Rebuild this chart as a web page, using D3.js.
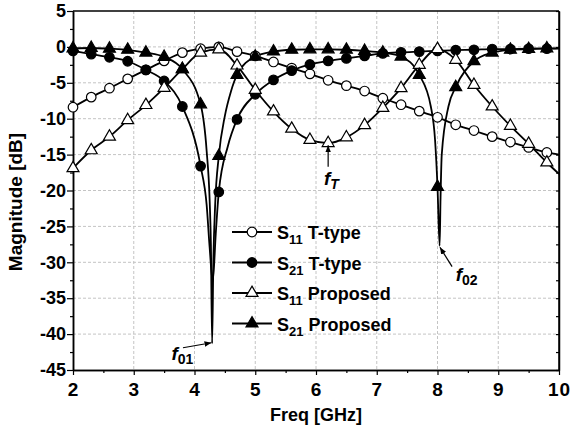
<!DOCTYPE html>
<html>
<head>
<meta charset="utf-8">
<script src="https://cdn.jsdelivr.net/npm/d3@7"></script>
<style>
body { margin: 0; background: #fff; }
text { font-family: "Liberation Sans", Arial, sans-serif; font-weight: bold; fill: #000; }
</style>
</head>
<body>
<div id="chart-area"></div>
<script>
// frequencies where the symbols sit (GHz)
var freqMarks = [2.0, 2.3, 2.6, 2.9, 3.2, 3.5, 3.8, 4.1, 4.4, 4.7, 5.0, 5.3, 5.6, 5.9,
                 6.2, 6.5, 6.8, 7.1, 7.4, 7.7, 8.0, 8.3, 8.6, 8.9, 9.2, 9.5, 9.8];

// magnitudes in dB read at freqMarks
var s11T = [-8.4, -7.0, -5.75, -4.45, -3.2, -1.95, -0.8, -0.25, 0.0, -0.65, -1.25, -2.1, -2.95, -3.75,
            -4.65, -5.4, -6.15, -7.15, -8.05, -8.95, -9.8, -10.85, -11.65, -12.5, -13.25, -14.0, -14.7];
var s21T = [-0.55, -1.0, -1.45, -2.0, -3.2, -4.75, -8.3, -16.6, -20.2, -10.1, -6.6, -4.6, -3.3, -2.45,
            -1.95, -1.6, -1.25, -0.9, -0.75, -0.65, -0.55, -0.45, -0.4, -0.3, -0.3, -0.25, -0.25];
var s11P = [-16.9, -14.4, -12.5, -10.2, -8.1, -5.7, -3.1, -0.8, -0.35, -2.6, -6.0, -9.0, -11.4, -12.95,
            -13.4, -12.6, -10.9, -8.5, -5.75, -2.5, -0.3, -1.8, -5.3, -8.3, -11.0, -13.5, -16.1];
var s21P = [-0.2, -0.15, -0.25, -0.4, -0.8, -1.4, -3.1, -8.0, -15.2, -3.9, -1.35, -0.65, -0.4, -0.35,
            -0.35, -0.4, -0.55, -0.8, -1.35, -3.9, -19.5, -5.6, -2.0, -0.8, -0.4, -0.3, -0.2];

// value of each curve at 10 GHz (line only, no symbol)
var s11TEnd = -15.0, s21TEnd = -0.2, s11PEnd = -17.7, s21PEnd = -0.2;

// extra line points around the transmission zeros [GHz, dB]
var s21TDip = [[4.2, -22], [4.25, -28], [4.3, -32.7], [4.35, -26], [4.55, -13.8]];
var s21PDip = [[4.2, -14.5], [4.25, -21.5], [4.27, -27.5], [4.29, -41.3], [4.31, -30], [4.34, -22],
               [4.5, -9.6], [4.6, -6.2],
               [7.89, -8.3], [7.96, -13], [8.035, -27.7], [8.05, -21], [8.07, -15], [8.18, -8.3]];

var xTicks = [2, 3, 4, 5, 6, 7, 8, 9, 10];
var xMinor = [2.5, 3.5, 4.5, 5.5, 6.5, 7.5, 8.5, 9.5];
var yTicks = [5, 0, -5, -10, -15, -20, -25, -30, -35, -40, -45];
var yMinor = [2.5, -2.5, -7.5, -12.5, -17.5, -22.5, -27.5, -32.5, -37.5, -42.5];

var legendNames = [["11", "T-type"], ["21", "T-type"], ["11", "Proposed"], ["21", "Proposed"]];

var margin = { left: 73, right: 12, top: 11, bottom: 62 };
var width = 571 - margin.left - margin.right,
    height = 432 - margin.top - margin.bottom;

var svg = d3.select("#chart-area")
    .append("svg")
    .attr("width", 571)
    .attr("height", 432);

var defs = svg.append("defs");
defs.append("marker")
    .attr("id", "arrow")
    .attr("viewBox", "0 0 10 10")
    .attr("refX", 10).attr("refY", 5)
    .attr("markerWidth", 7).attr("markerHeight", 7)
    .attr("markerUnits", "userSpaceOnUse")
    .attr("orient", "auto")
    .append("path")
    .attr("d", "M0,1 L10,5 L0,9 Z")
    .attr("fill", "#000");

var g = svg.append("g")
    .attr("transform", "translate(" + margin.left + ", " + margin.top + ")");

var x = d3.scaleLinear().domain([2, 10]).range([0, width]);
var y = d3.scaleLinear().domain([-45, 5]).range([height, 0]);

// grid
g.selectAll(".vgrid")
    .data(xTicks.slice(1, -1))
    .enter().append("line")
    .attr("x1", function (d) { return x(d); })
    .attr("x2", function (d) { return x(d); })
    .attr("y1", 0).attr("y2", height)
    .attr("stroke", "#c4c4c4").attr("stroke-width", 1).attr("stroke-dasharray", "3,2");
g.selectAll(".hgrid")
    .data(yTicks.slice(1, -1))
    .enter().append("line")
    .attr("y1", function (d) { return y(d); })
    .attr("y2", function (d) { return y(d); })
    .attr("x1", 0).attr("x2", width)
    .attr("stroke", "#c4c4c4").attr("stroke-width", 1).attr("stroke-dasharray", "3,2");

// axes
var xAxis = g.append("g")
    .attr("transform", "translate(0," + height + ")")
    .call(d3.axisBottom(x).tickValues(xTicks).tickSize(5).tickPadding(8).tickSizeOuter(0));
xAxis.selectAll("text").style("font-size", "19px").style("letter-spacing", "1px");
g.append("g")
    .attr("transform", "translate(0," + height + ")")
    .call(d3.axisBottom(x).tickValues(xMinor).tickSize(3).tickFormat("").tickSizeOuter(0));

var yAxis = g.append("g")
    .call(d3.axisLeft(y).tickValues(yTicks).tickSize(6).tickPadding(1).tickSizeOuter(0)
        .tickFormat(function (d) { return d < 0 ? "-" + Math.abs(d) : d; }));
yAxis.selectAll("text").style("font-size", "18px");
g.append("g")
    .call(d3.axisLeft(y).tickValues(yMinor).tickSize(3).tickFormat("").tickSizeOuter(0));

g.append("g")
    .attr("transform", "translate(" + width + ",0)")
    .call(d3.axisRight(y).tickValues(yTicks.concat(yMinor)).tickSize(-3).tickFormat("").tickSizeOuter(0));

g.selectAll(".domain").attr("stroke-width", 1.5);
g.selectAll(".tick line").attr("stroke-width", 1.2);

// frame top/right
g.append("line").attr("x1", 0).attr("x2", width).attr("y1", 0).attr("y2", 0)
    .attr("stroke", "#000").attr("stroke-width", 1.5);
g.append("line").attr("x1", width).attr("x2", width).attr("y1", 0).attr("y2", height)
    .attr("stroke", "#000").attr("stroke-width", 1.5);

// axis titles
svg.append("text")
    .attr("x", margin.left + width / 2)
    .attr("y", 421)
    .attr("text-anchor", "middle")
    .style("font-size", "18px")
    .text("Freq [GHz]");
svg.append("text")
    .attr("transform", "translate(22,202) rotate(-90)")
    .attr("text-anchor", "middle")
    .style("font-size", "19px")
    .text("Magnitude [dB]");

// series
function buildLine(vals, endVal, extra) {
    var pts = freqMarks.map(function (f, i) { return [f, vals[i]]; });
    pts.push([10, endVal]);
    (extra || []).forEach(function (p) { pts.push(p); });
    pts.sort(function (a, b) { return a[0] - b[0]; });
    return pts;
}

var series = [
    { vals: s11T, line: buildLine(s11T, s11TEnd), sym: "circle", fill: "#fff" },
    { vals: s21T, line: buildLine(s21T, s21TEnd, s21TDip), sym: "circle", fill: "#000" },
    { vals: s11P, line: buildLine(s11P, s11PEnd), sym: "triangle", fill: "#fff" },
    { vals: s21P, line: buildLine(s21P, s21PEnd, s21PDip), sym: "triangle", fill: "#000" }
];

var line = d3.line()
    .x(function (d) { return x(d[0]); })
    .y(function (d) { return y(d[1]); })
    .curve(d3.curveMonotoneX);

var plot = g.append("g");
series.forEach(function (s) {
    plot.append("path")
        .attr("d", line(s.line))
        .attr("fill", "none")
        .attr("stroke", "#000")
        .attr("stroke-width", 1.8);
});

var circleSym = d3.symbol().type(d3.symbolCircle).size(72);
var triSym = d3.symbol().type(d3.symbolTriangle).size(62);

function symPath(s) { return s.sym === "circle" ? circleSym() : triSym(); }

series.forEach(function (s) {
    plot.selectAll(null)
        .data(freqMarks.map(function (f, i) { return [f, s.vals[i]]; }))
        .enter().append("path")
        .attr("d", symPath(s))
        .attr("transform", function (d) { return "translate(" + x(d[0]) + "," + y(d[1]) + ")"; })
        .attr("fill", s.fill)
        .attr("stroke", "#000")
        .attr("stroke-width", 1.2);
});

// legend
var legend = svg.append("g");
var legY = [232, 262.5, 293, 323.5];
series.forEach(function (s, i) {
    var row = legend.append("g").attr("transform", "translate(0," + legY[i] + ")");
    row.append("line").attr("x1", 232).attr("x2", 272).attr("y1", 0).attr("y2", 0)
        .attr("stroke", "#000").attr("stroke-width", 1.8);
    row.append("path").attr("d", symPath(s))
        .attr("transform", "translate(252,0)")
        .attr("fill", s.fill).attr("stroke", "#000").attr("stroke-width", 1.2);
    var t = row.append("text").attr("x", 277).attr("y", 7).style("font-size", "18px");
    t.append("tspan").text("S");
    t.append("tspan").attr("dy", 5).style("font-size", "13px").text(legendNames[i][0]);
    t.append("tspan").attr("dy", -5).text(" " + legendNames[i][1]);
});

// annotations
function note(label, sub, subItalic, tx, ty, ax1, ay1, ax2, ay2) {
    g.append("line")
        .attr("x1", x(ax1)).attr("y1", y(ay1))
        .attr("x2", x(ax2)).attr("y2", y(ay2))
        .attr("stroke", "#000").attr("stroke-width", 1.2)
        .attr("marker-end", "url(#arrow)");
    var t = g.append("text").attr("x", x(tx)).attr("y", y(ty)).style("font-size", "19px");
    t.append("tspan").style("font-style", "italic").text(label);
    t.append("tspan").attr("dy", 4).style("font-size", "14px")
        .style("font-style", subItalic ? "italic" : "normal").text(sub);
}
note("f", "T", true, 6.13, -19.2, 6.2, -16.7, 6.2, -13.7);
note("f", "01", false, 3.62, -43.6, 3.81, -41.9, 4.28, -41.2);
note("f", "02", false, 8.3, -32.6, 8.24, -30.6, 8.04, -27.9);
</script>
</body>
</html>
